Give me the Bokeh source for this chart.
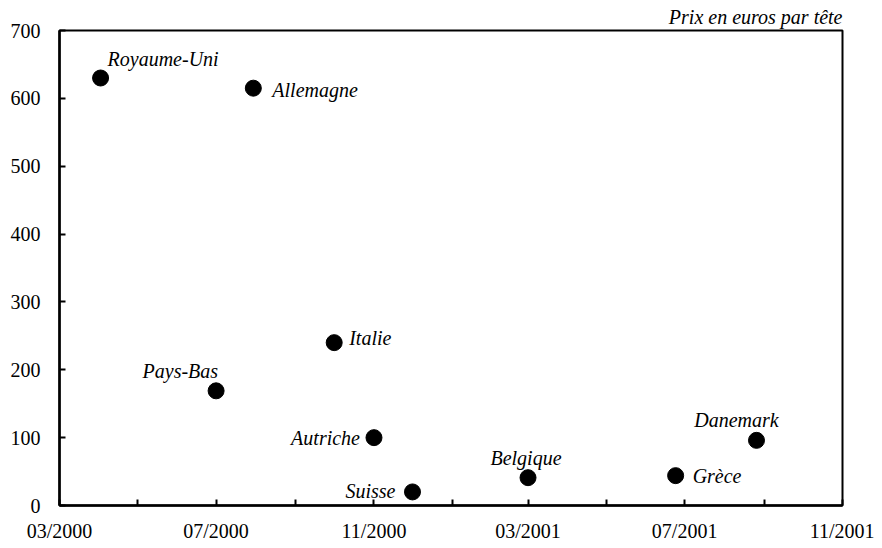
import pandas as pd
from bokeh.plotting import figure
from bokeh.models import ColumnDataSource, FixedTicker, DatetimeTickFormatter, Range1d
from bokeh.core.properties import value
from bokeh.embed import file_html
from bokeh.resources import INLINE

# ---- data ----
countries = ["Royaume-Uni", "Allemagne", "Italie", "Pays-Bas", "Autriche",
             "Suisse", "Belgique", "Grèce", "Danemark"]
dates = ["2000-04-02", "2000-07-30", "2000-10-01", "2000-07-01", "2000-11-01",
         "2000-12-01", "2001-03-01", "2001-06-24", "2001-08-26"]
prices = [630, 615, 240, 169, 100, 20, 41, 44, 96]

major_tick_dates = ["2000-03-01", "2000-07-01", "2000-11-01", "2001-03-01",
                    "2001-07-01", "2001-11-01"]
minor_tick_dates = ["2000-05-01", "2000-09-01", "2001-01-01", "2001-05-01",
                    "2001-09-01"]
y_ticks = [0, 100, 200, 300, 400, 500, 600, 700]
title_text = "Prix en euros par tête"

# ---- label placement (layout only) ----
label_align = ["left", "left", "left", "right", "right", "right", "center", "left", "center"]
label_dx = [7, 19, 15, 2, -14, -17, -2, 17, -20]
label_dy = [-19, 2, -5, -20, 0, -1, -20, 0, -20]

FONT = "Liberation Serif"

def ms(d):
    return pd.Timestamp(d).value / 1e6

src = ColumnDataSource(dict(
    x=pd.to_datetime(dates), y=prices, name=countries,
    align=label_align, dx=label_dx, dy=label_dy,
))

p = figure(width=874, height=544, x_axis_type="datetime",
           output_backend="svg", toolbar_location=None,
           x_range=Range1d(pd.Timestamp(major_tick_dates[0]), pd.Timestamp(major_tick_dates[-1])),
           y_range=Range1d(y_ticks[0], y_ticks[-1]),
           min_border_left=59, min_border_right=32, min_border_bottom=34, min_border_top=30)

p.title.text = title_text
p.title.align = "right"
p.title.text_font = FONT
p.title.text_font_style = "italic"
p.title.text_font_size = "20px"
p.title.text_color = "black"
p.title.standoff = 5
p.title.offset = 0

p.xgrid.visible = False
p.ygrid.visible = False
p.outline_line_color = "black"
p.outline_line_width = 2
p.outline_line_alpha = 1
p.background_fill_color = "white"
p.border_fill_color = "white"

p.xaxis.ticker = FixedTicker(ticks=[ms(d) for d in major_tick_dates],
                             minor_ticks=[ms(d) for d in minor_tick_dates])
p.xaxis.formatter = DatetimeTickFormatter(
    milliseconds="%m/%Y", seconds="%m/%Y", minsec="%m/%Y", minutes="%m/%Y",
    hourmin="%m/%Y", hours="%m/%Y", days="%m/%Y", months="%m/%Y", years="%m/%Y")
p.yaxis.ticker = FixedTicker(ticks=y_ticks, minor_ticks=[])

for ax in (p.xaxis[0], p.yaxis[0]):
    ax.axis_line_color = "black"
    ax.axis_line_width = 2.5
    ax.major_tick_in = 6
    ax.major_tick_out = 0
    ax.minor_tick_in = 6
    ax.minor_tick_out = 0
    ax.major_tick_line_color = "black"
    ax.major_tick_line_width = 2
    ax.minor_tick_line_color = "black"
    ax.minor_tick_line_width = 2
    ax.major_label_text_font = FONT
    ax.major_label_text_font_size = "20px"
    ax.major_label_text_color = "black"

p.xaxis.major_label_standoff = 14
p.yaxis.major_label_standoff = 19

p.scatter("x", "y", source=src, size=16, color="black", marker="circle")
p.text("x", "y", text="name", source=src, x_offset="dx", y_offset="dy",
       text_align="align", text_baseline="alphabetic",
       text_font=value(FONT), text_font_style="italic", text_font_size="20px",
       text_color="black")

open("out.html", "w").write(file_html(p, INLINE))
